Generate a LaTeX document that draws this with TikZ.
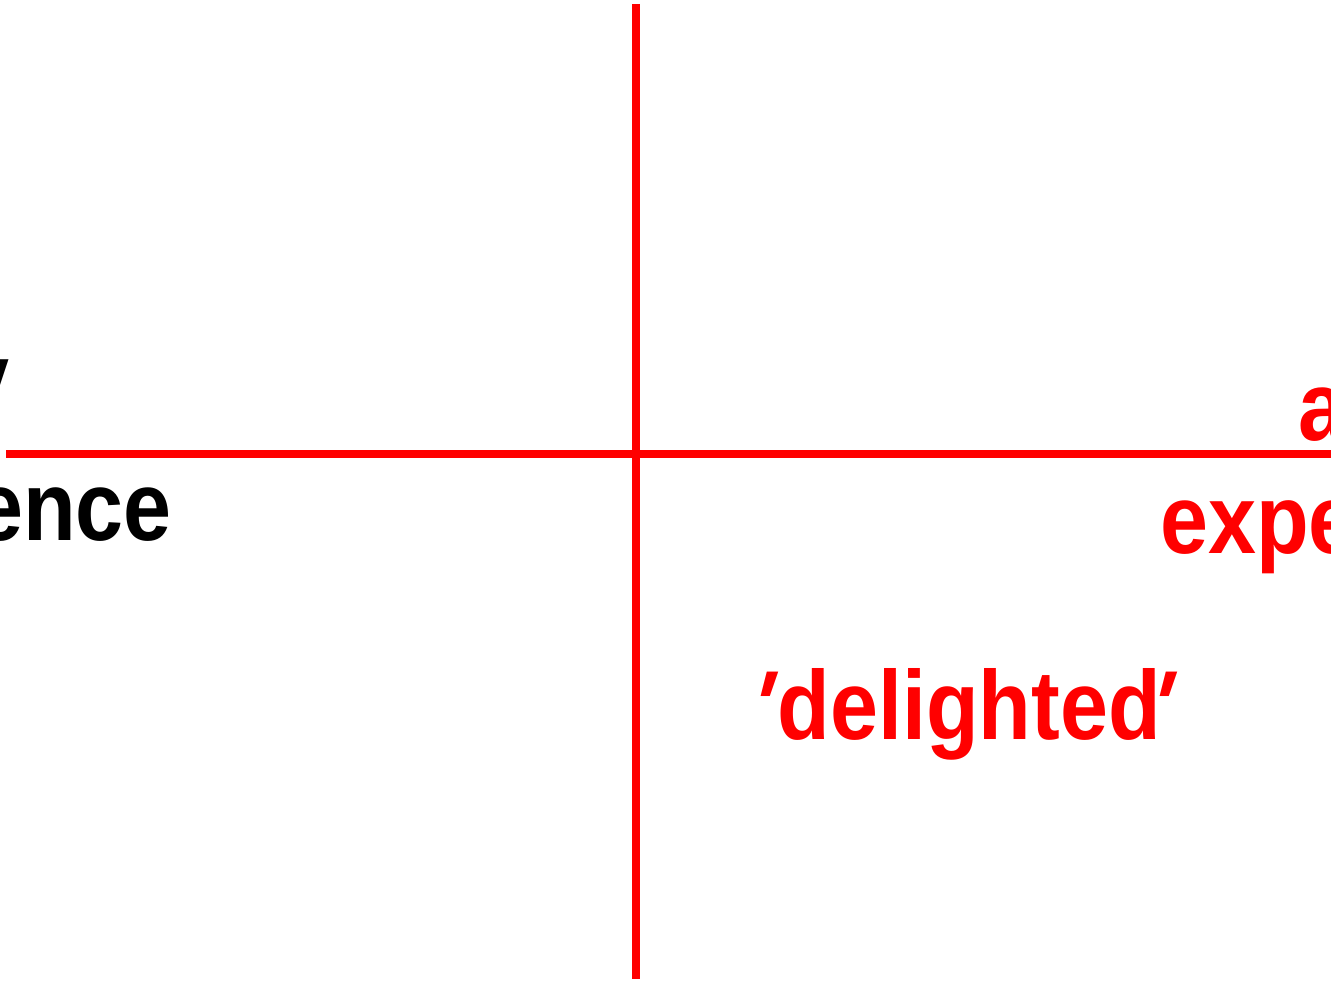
\documentclass[tikz,border=0pt]{standalone}
\usepackage{fontspec}
\newfontfamily\condbold[FakeStretch=0.88]{Liberation Sans Bold}
\newfontfamily\condslant[FakeStretch=0.88,FakeSlant=0.3]{Liberation Sans Bold}
\newcommand{\slq}{{\condslant\textquotesingle}}
\begin{document}
\begin{tikzpicture}[x=0.75pt,y=-0.75pt,
  axis/.style={draw=red,line width=5.8pt},
  lbl/.style={inner sep=0pt,font=\condbold\fontsize{73.5pt}{80pt}\selectfont},
  redlbl/.style={lbl,text=red},
  blacklbl/.style={lbl,text=black}]
\useasboundingbox (0,0) rectangle (1331,981);
\clip (0,0) rectangle (1331,981);
\coordinate (vtop) at (636,4);
\coordinate (vbot) at (636,979);
\coordinate (hleft) at (6,454);
\coordinate (hright) at (1331,454);
\draw[axis] (vtop) -- (vbot);
\draw[axis] (hleft) -- (hright);
\node[blacklbl,anchor=base east] (ytail) at (10,411) {y};
\node[blacklbl,anchor=base east] (ence) at (172,540) {ence};
\node[redlbl,anchor=base west] (a) at (1298,440) {a};
\node[redlbl,anchor=base west] (expe) at (1160,553) {expe};
\node[redlbl,anchor=base west] (delighted) at (754,739) {\kern-0.12em\slq\kern0.12em delighted\kern-0.2em\slq};
\end{tikzpicture}
\end{document}
